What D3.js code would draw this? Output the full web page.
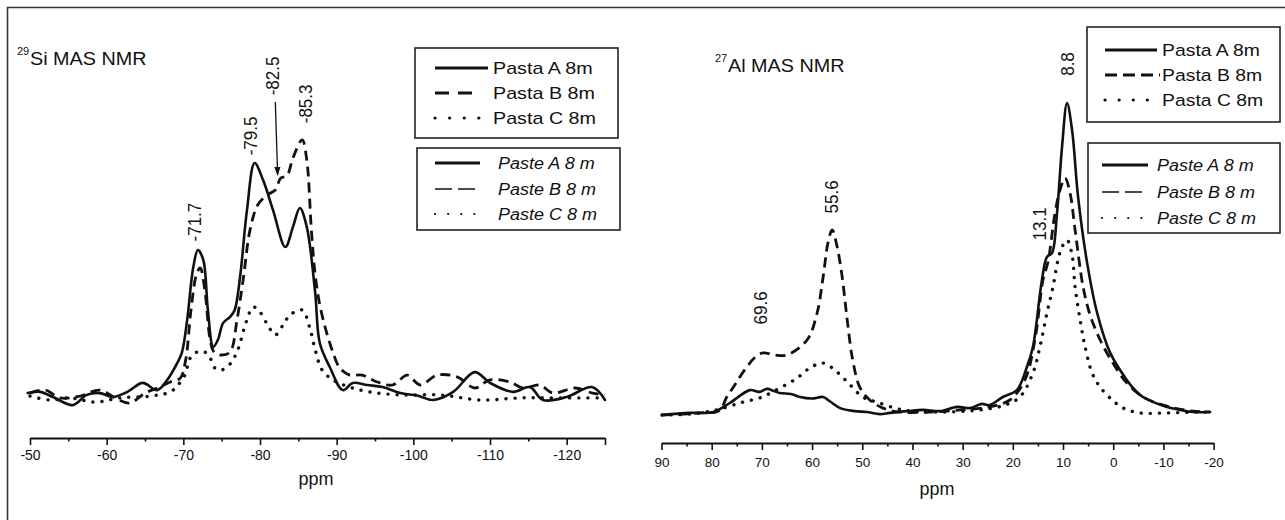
<!DOCTYPE html>
<html><head><meta charset="utf-8">
<script src="https://cdn.jsdelivr.net/npm/d3@7"></script>
<style>
body{margin:0;background:#fff}
svg{display:block}
text{font-family:"Liberation Sans",Arial,Helvetica,sans-serif;fill:#111}
</style>
</head><body>
<svg id="c" width="1285" height="520"></svg>
<script>
// ---------- DATA ----------
const siTicks = [-50,-60,-70,-80,-90,-100,-110,-120];
const alTicks = [90,80,70,60,50,40,30,20,10,0,-10,-20];
const legendPasta = ["Pasta A 8m","Pasta B 8m","Pasta C 8m"];
const legendPaste = ["Paste A 8 m","Paste B 8 m","Paste C 8 m"];
const siTitle = ["29","Si MAS NMR"];
const alTitle = ["27","Al MAS NMR"];
const axisLabel = "ppm";

// 29Si spectra [ppm, intensity]
const siPastaA = [[-49.7,2.3],[-51.3,2.7],[-53.0,1.0],[-55.6,-1.7],[-57.4,1.7],[-59.1,2.3],[-60.8,1.0],[-62.7,2.7],[-64.7,5.7],[-66.6,3.3],[-67.9,6.7],[-69.2,12.3],[-69.8,15.7],[-70.5,26.7],[-71.3,44.3],[-71.9,50],[-72.6,46.7],[-73.2,30],[-73.9,17.7],[-74.5,20],[-75.2,25.7],[-76.1,27.7],[-76.7,30],[-77.4,41],[-78.3,63.3],[-79.3,79],[-80.4,73.3],[-81.7,63.3],[-83.3,51],[-84.3,57.7],[-85.2,64],[-86.1,57.7],[-87.2,35.7],[-87.8,19],[-89.1,11],[-90.8,3.3],[-92.1,5.7],[-94.0,5],[-96.0,4.3],[-98.3,2.3],[-100.5,1.5],[-102.6,0],[-105.2,2.7],[-108.0,9.3],[-110.0,5.7],[-113.0,2.7],[-115.2,4.3],[-116.9,0],[-120.0,1],[-123.3,4.3],[-125.0,0]];
const siPastaB = [[-50.0,2.3],[-52.0,3.3],[-53.9,0.7],[-56.5,1.3],[-59.1,3.3],[-61.1,0.7],[-63.0,-1],[-65.0,2.3],[-66.6,4],[-68.3,6],[-69.6,7.3],[-70.3,13.3],[-71.0,30],[-71.7,41.7],[-72.2,44],[-72.8,36.7],[-73.5,20],[-74.0,16],[-75.0,15],[-76.1,16],[-77.0,26.7],[-77.8,40],[-78.7,56.7],[-79.7,65],[-80.9,68.3],[-82.0,70],[-82.7,74],[-83.5,74.7],[-84.3,80.7],[-85.5,86.7],[-86.1,80],[-86.7,56.7],[-87.2,41.7],[-87.8,31.7],[-88.6,23.3],[-89.5,16],[-90.4,10.7],[-91.7,8.3],[-93.3,8.3],[-95.3,6],[-97.3,5],[-99.2,8.3],[-100.9,5],[-103.1,8.3],[-105.7,7.7],[-108.0,4],[-110.0,6.7],[-112.6,6],[-114.3,4],[-116.5,5],[-118.2,2.3],[-121.1,4],[-123.4,2.3],[-125.0,1.7]];
const siPastaC = [[-50,1.3],[-52.6,0],[-55.2,0.7],[-58.5,-0.7],[-61.7,0.7],[-65.7,1.3],[-68.3,2.7],[-69.3,5],[-70.2,8.3],[-70.9,14],[-71.8,16],[-72.8,16],[-73.5,14],[-74.1,10.7],[-75.0,10],[-76.1,12],[-77.1,16.7],[-78.2,26],[-79.1,31],[-80.0,29.3],[-81.0,25],[-82.0,21.7],[-83.0,25],[-83.9,28.3],[-85.5,30],[-86.5,24],[-87.2,16.7],[-88.1,10],[-89.5,6.7],[-91.7,4.3],[-94.3,2.7],[-98.3,1.7],[-103.5,1.7],[-108.7,0],[-113.9,0.7],[-119.1,0.7],[-125,0.7]];

// 27Al spectra [ppm, intensity]
const alPastaA = [[89.9,0],[84.3,0.7],[79.7,1],[76.4,4],[72.4,8.3],[70.5,7.7],[69.0,8.7],[67.6,8.0],[66.4,7.3],[64.2,7.0],[62.4,6],[60.0,5.5],[57.8,6],[56.4,4.5],[54.4,2.3],[51.5,1.3],[49.1,1],[46.5,0.3],[44.5,0.7],[41.0,1.3],[37.9,1.7],[34.5,1.3],[31.1,2.7],[28.5,2.3],[26.2,3.7],[24.6,3.3],[22.0,6],[19.2,8.3],[17.2,16],[16.0,22.7],[14.2,45],[13.2,52.7],[12.2,54],[11.2,67.3],[10.2,89.3],[9.2,104],[8.2,95],[7.0,72.7],[5.2,50.7],[3.2,34],[0.6,20.7],[-2.7,11.7],[-4.5,8.0],[-5.9,6],[-8.0,4.3],[-10.7,2.7],[-13.0,1.8],[-15.9,1],[-19.3,1]];
const alPastaB = [[89.9,0],[82.3,0.7],[78.5,1.5],[77.0,6],[75.6,9.5],[74.4,12.7],[73.0,16],[71.5,19],[69.8,20.7],[67.4,20],[65.0,20],[61.0,25],[59.0,34],[57.8,46],[56.8,57.7],[56.0,61.7],[55.0,56],[54.0,46],[53.0,31.7],[51.9,18.3],[50.5,9.3],[48.5,5],[45.9,2.3],[42.5,1],[36.5,1],[30.5,1.7],[24.6,2.7],[20.6,5],[17.6,11.7],[15.6,25],[14.0,45],[13.0,51],[11.6,67.3],[10.6,75],[9.6,79],[8.6,74],[7.6,61.7],[6.0,42.7],[4.6,33.3],[2.6,25],[0.2,17.7],[-2.7,10.7],[-6.3,5.7],[-11.3,2.7],[-15.9,1.3],[-19.3,1]];
const alPastaC = [[89.9,0],[84.3,0.3],[79.0,1.7],[73.8,4.3],[70.4,5.7],[66.4,9],[63.0,12.3],[60.4,15.7],[57.8,17.3],[55.0,14.3],[52.4,10],[49.9,6],[47.1,4.3],[41.9,1.7],[34.5,1],[26.6,1.7],[21.6,3.3],[18.6,6],[16.0,14],[14.6,22.7],[13.2,34],[12.0,42.7],[11.0,51.7],[10.2,56],[9.2,58.3],[8.2,53.3],[7.6,42.7],[6.6,31.7],[5.6,22.7],[4.2,14],[2.6,9.3],[0.2,5],[-2.0,2.3],[-5.3,0.7],[-10.7,0.7],[-17.3,1],[-19.3,1]];

// peak annotations
const siPeakLabels = ["-71.7","-79.5","-82.5","-85.3"];
const siPeakPpm = [-71.5,-78.8,-81.6,-85.9];
const siPeakHeight = [59.3,88,108,98.7];
const siArrow = [[-82.0,99.3],[-82.3,75]];
const alPeakLabels = ["69.6","55.6","13.1","8.8"];
const alPeakPpm = [70.2,56.0,14.6,9.0];
const alPeakHeight = [35.7,72.7,63.7,117];

// ---------- DRAW ----------
const svg = d3.select("#c");
const ink = "#111";

// outer frame (top and left edges)
svg.append("path").attr("d","M7.5,520V7.5H1285").attr("fill","none").attr("stroke","#333").attr("stroke-width",1.6);

const xSi = d3.scaleLinear().domain([-50,-125]).range([30,605]);
const ySi = d3.scaleLinear().domain([0,100]).range([400,100]);
const xAl = d3.scaleLinear().domain([90,-20]).range([661.5,1213.6]);
const yAl = d3.scaleLinear().domain([0,100]).range([415,115]);

const styles = [
  {w:2.6, dash:null, cap:"round"},
  {w:2.8, dash:"10,6", cap:"butt"},
  {w:3.4, dash:"0.1,9", cap:"round"}
];

function drawSeries(x, y, series){
  const line = d3.line().x(d=>x(d[0])).y(d=>y(d[1])).curve(d3.curveCatmullRom.alpha(0.5));
  series.forEach((s,i)=>{
    const st = styles[i];
    svg.append("path").datum(s).attr("d",line).attr("fill","none")
      .attr("stroke",ink).attr("stroke-width",st.w)
      .attr("stroke-linecap",st.cap).attr("stroke-linejoin","round")
      .attr("stroke-dasharray",st.dash);
  });
}
drawSeries(xSi, ySi, [siPastaA, siPastaB, siPastaC]);
drawSeries(xAl, yAl, [alPastaA, alPastaB, alPastaC]);

function drawAxis(x, yPos, ticks, minor, end, fs, pad){
  const g = svg.append("g").attr("transform",`translate(0,${yPos})`);
  g.call(d3.axisBottom(x).tickValues(ticks.concat(end)).tickSize(7).tickSizeOuter(0).tickPadding(pad)
    .tickFormat(d => ticks.includes(d) ? String(d) : ""));
  const gm = svg.append("g").attr("transform",`translate(0,${yPos})`);
  gm.call(d3.axisBottom(x).tickValues(minor).tickSize(3.5).tickSizeOuter(0).tickFormat(""));
  gm.select(".domain").remove();
  [g,gm].forEach(a=>{
    a.selectAll("line").attr("stroke",ink).attr("stroke-width",1.6);
    a.select(".domain").attr("stroke",ink).attr("stroke-width",2.2);
    a.selectAll("text").attr("fill",ink).style("font-size",fs+"px")
      .style("font-family","'Liberation Sans',Arial,sans-serif");
  });
}
drawAxis(xSi, 438, siTicks, d3.range(-55,-121,-10), [-125], 14, 5);
drawAxis(xAl, 443, alTicks, d3.range(85,-16,-10), [], 13.5, 7);

function txt(x, y, s, o={}){
  const size=o.size||16, sx=o.sx||1, sy=o.sy||1;
  const t = svg.append("text")
    .attr("transform",`translate(${x},${y})` + (o.rot?` rotate(${o.rot})`:"") + ` scale(${sx},${sy})`)
    .attr("text-anchor",o.anchor||"start")
    .style("font-size",size+"px")
    .text(s);
  if(o.italic) t.style("font-style","italic");
  if(o.central) t.attr("dominant-baseline","central");
  return t;
}

// axis titles
txt(316, 485, axisLabel, {size:18, anchor:"middle"});
txt(937, 495, axisLabel, {size:18, anchor:"middle"});

// panel titles
txt(17, 55, siTitle[0], {size:11});
txt(30, 65, siTitle[1], {size:18, sx:1.1});
txt(715, 62, alTitle[0], {size:11});
txt(728, 72, alTitle[1], {size:18, sx:1.1});

// peak labels (rotated)
siPeakLabels.forEach((l,i)=> txt(xSi(siPeakPpm[i]), ySi(siPeakHeight[i]), l, {size:17, rot:-90, anchor:"middle", central:true, sy:1.1}));
alPeakLabels.forEach((l,i)=> txt(xAl(alPeakPpm[i]), yAl(alPeakHeight[i]), l, {size:17, rot:-90, anchor:"middle", central:true, sy:1.1}));

// arrow
svg.append("defs").append("marker").attr("id","ah").attr("viewBox","0 0 10 10")
  .attr("refX",9).attr("refY",5).attr("markerWidth",7).attr("markerHeight",7).attr("orient","auto")
  .append("path").attr("d","M0,1.5L10,5L0,8.5Z").attr("fill",ink);
svg.append("path").datum(siArrow)
  .attr("d", d3.line().x(d=>xSi(d[0])).y(d=>ySi(d[1])))
  .attr("stroke",ink).attr("stroke-width",1.3).attr("fill","none").attr("marker-end","url(#ah)");

// legends
function legend(bx, by, bw, bh, rowsY, sx1, sx2, tx, labels, italic, lineStyles, tsx){
  svg.append("rect").attr("x",bx).attr("y",by).attr("width",bw).attr("height",bh)
    .attr("fill","#fff").attr("stroke","#222").attr("stroke-width",1.6);
  labels.forEach((l,i)=>{
    const st = lineStyles[i];
    svg.append("line").attr("x1",sx1).attr("x2",sx2[i]).attr("y1",rowsY[i]).attr("y2",rowsY[i])
      .attr("stroke",ink).attr("stroke-width",st.w).attr("stroke-dasharray",st.dash)
      .attr("stroke-linecap",st.cap);
    txt(tx, rowsY[i]+6, l, {size:17, italic:italic, sx:tsx});
  });
}
const pastaStyles = [{w:2.8,dash:null,cap:"butt"},{w:3,dash:"14,9",cap:"butt"},{w:3.2,dash:"0.1,14.5",cap:"round"}];
const pasteStyles = [{w:3,dash:null,cap:"butt"},{w:1.4,dash:"17,6",cap:"butt"},{w:2.2,dash:"0.1,13",cap:"round"}];

legend(415, 48, 203, 90, [68,93,118], 435, [488,476,492], 493, legendPasta, false, pastaStyles, 1.16);
legend(417, 148, 203, 82, [163,189,214], 435, [480,480,480], 498, legendPaste, true, pasteStyles, 1.06);
legend(1087, 27, 193, 95, [50,75,100], 1105, [1157,1160,1150], 1162, legendPasta, false,
  [{w:2.8,dash:null,cap:"butt"},{w:3,dash:"12,6",cap:"butt"},{w:3.2,dash:"0.1,14",cap:"round"}], 1.14);
legend(1088, 143, 192, 90, [165,192,218], 1102, [1148,1142,1146], 1157, legendPaste, true, pasteStyles, 1.06);
</script>
</body></html>
